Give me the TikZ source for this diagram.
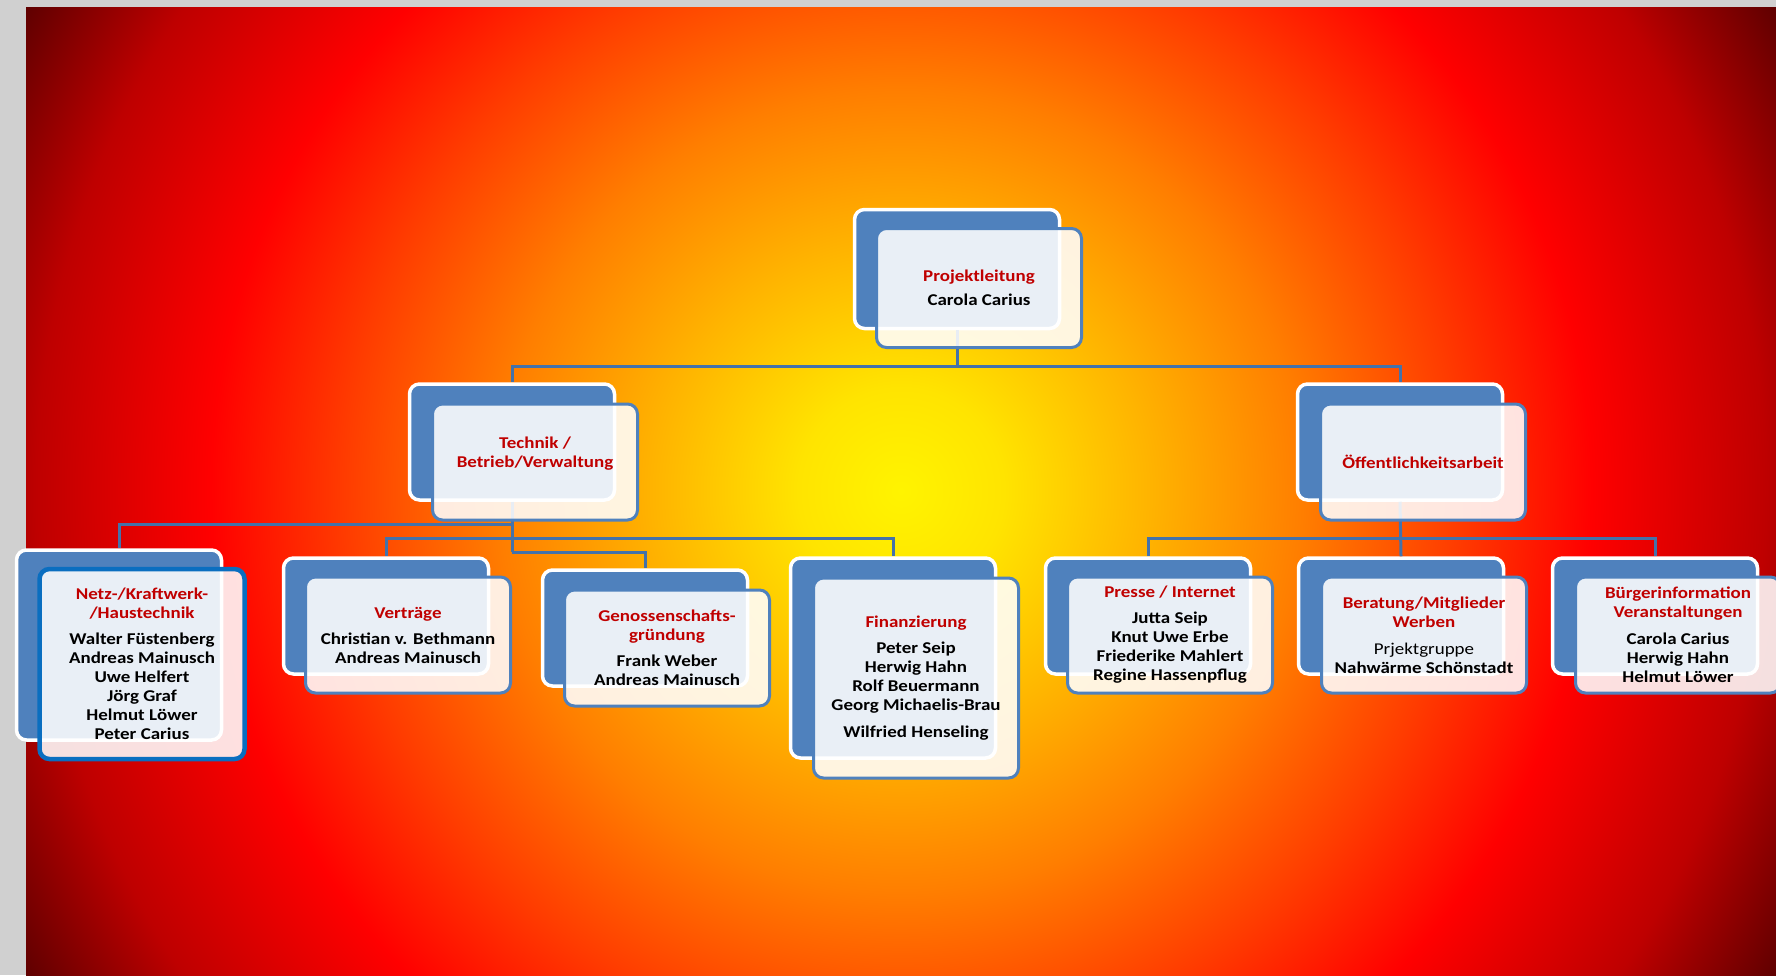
\documentclass[tikz,border=0pt]{standalone}
\usepackage{fontspec}
\setmainfont{Carlito}[FakeStretch=1.15]

\definecolor{boxblue}{HTML}{4F81BD}
\definecolor{lineblue}{HTML}{4472AA}
\definecolor{netzblue}{HTML}{0A6EC0}
\definecolor{titlered}{HTML}{C00000}
\definecolor{bggrey}{HTML}{D0D0D0}
\definecolor{fireA}{HTML}{FFF400}
\definecolor{fireB}{HTML}{FFE400}
\definecolor{fireC}{HTML}{FFB400}
\definecolor{fireD}{HTML}{FF7E00}
\definecolor{fireE}{HTML}{FF3C00}
\definecolor{fireF}{HTML}{FF0000}
\definecolor{fireG}{HTML}{BE0000}
\definecolor{fireH}{HTML}{4A0000}
\pgfdeclareradialshading{fire}{\pgfpointorigin}{%
  color(0bp)=(fireA); color(2.5bp)=(fireB); color(6bp)=(fireC);
  color(9.75bp)=(fireD); color(13.5bp)=(fireE); color(16.75bp)=(fireF);
  color(21bp)=(fireG); color(25bp)=(fireH); color(50bp)=(fireH)}

\newcommand{\ttl}[1]{\textcolor{titlered}{#1}}

\begin{document}
\begin{tikzpicture}[
        x=1pt, y=-1pt,
        backbox/.style={
            rectangle,
            rounded corners=10pt,
            draw=white,
            line width=3.5pt,
            fill=boxblue,
            minimum width=205pt,
            minimum height=116pt
        },
        frontbox/.style={
            rectangle,
            rounded corners=10pt,
            draw=boxblue,
            line width=3pt,
            fill=white,
            fill opacity=0.88,
            text opacity=1,
            minimum width=205pt,
            minimum height=116pt,
            align=center,
            font=\fontsize{16.5pt}{19pt}\selectfont\bfseries
        },
        conn/.style={draw=lineblue, line width=3pt}
    ]

    % Background
    \useasboundingbox (0,0) rectangle (1776,975);
    \fill[bggrey] (0,0) rectangle (1776,975);
    \begin{scope}
        \clip (26,7) rectangle (1776,975);
        \shade[shading=fire] (901,491) circle (1030pt);
    \end{scope}

    % Junctions
    \coordinate (j0) at (957,366);
    \coordinate (t1) at (512,524);
    \coordinate (t2) at (512,538);
    \coordinate (t3) at (512,552);
    \coordinate (r1) at (1400,538);

    % Back boxes
    \node[backbox, minimum height=119pt] (pl) at (957,269) {};
    \node[backbox] (tech) at (512,442) {};
    \node[backbox] (oef) at (1400,442) {};
    \node[backbox, minimum height=190pt] (netz) at (119,645) {};
    \node[backbox] (vert) at (386,616) {};
    \node[backbox] (gen) at (645,628) {};
    \node[backbox, minimum height=200pt] (fin) at (893,658) {};
    \node[backbox] (pres) at (1148,616) {};
    \node[backbox] (ber) at (1401,616) {};
    \node[backbox] (bue) at (1655,616) {};

    % Connections
    \draw[conn] (pl.south) -- (j0);
    \draw[conn] (j0) -| (tech.north);
    \draw[conn] (j0) -| (oef.north);

    \draw[conn] (tech.south) -- (t3);
    \draw[conn] (t1) -| (netz.north);
    \draw[conn] (t2) -| (vert.north);
    \draw[conn] (t2) -| (fin.north);
    \draw[conn] (t3) -| (gen.north);

    \draw[conn] (oef.south) -- (ber.north);
    \draw[conn] (r1) -| (pres.north);
    \draw[conn] (r1) -| (bue.north);

    % Front boxes
    \node[frontbox, minimum height=119pt] (plF) at (979,288)
        {\ttl{Projektleitung}\\[5pt]Carola Carius};
    \node[frontbox] (techF) at (535,462)
        {\ttl{Technik /}\\\ttl{Betrieb/Verwaltung}\\[0pt]\mbox{}};
    \node[frontbox] (oefF) at (1423,462)
        {\ttl{Öffentlichkeitsarbeit}};
    \node[frontbox, minimum height=190pt, draw=netzblue, line width=4.5pt] (netzF) at (142,664)
        {\ttl{Netz-/Kraftwerk-}\\\ttl{/Haustechnik}\\[7pt]Walter Füstenberg\\Andreas Mainusch\\Uwe Helfert\\Jörg Graf\\Helmut Löwer\\Peter Carius};
    \node[frontbox] (vertF) at (408,635)
        {\ttl{Verträge}\\[7pt]Christian v. Bethmann\\Andreas Mainusch};
    \node[frontbox] (genF) at (667,648)
        {\ttl{Genossenschafts-}\\\ttl{gründung}\\[7pt]Frank Weber\\Andreas Mainusch};
    \node[frontbox, minimum height=200pt] (finF) at (916,678)
        {\ttl{Finanzierung}\\[7pt]Peter Seip\\Herwig Hahn\\Rolf Beuermann\\Georg Michaelis-Brau\\[8pt]Wilfried Henseling};
    \node[frontbox] (presF) at (1170,635)
        {\ttl{Presse / Internet}\\[7pt]Jutta Seip\\Knut Uwe Erbe\\Friederike Mahlert\\Regine Hassenpflug};
    \node[frontbox] (berF) at (1424,635)
        {\ttl{Beratung/Mitglieder}\\\ttl{Werben}\\[8pt]\mdseries Prjektgruppe\\Nahwärme Schönstadt};
    \node[frontbox] (bueF) at (1678,635)
        {\ttl{Bürgerinformation}\\\ttl{Veranstaltungen}\\[8pt]Carola Carius\\Herwig Hahn\\Helmut Löwer};

\end{tikzpicture}
\end{document}
